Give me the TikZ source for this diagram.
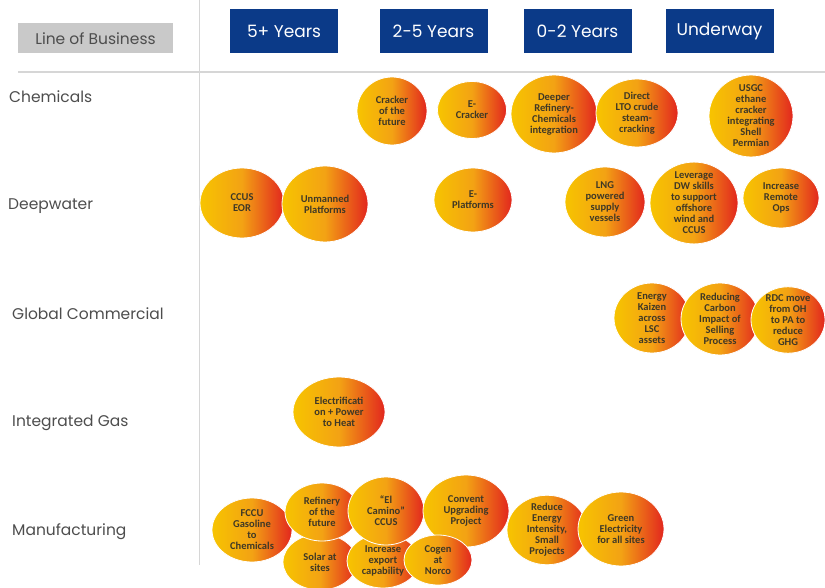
\documentclass[tikz,border=0pt]{standalone}
\usepackage{fontspec}
\usepackage{xcolor}
\usetikzlibrary{shapes.geometric}
\newfontfamily\headfont{Poppins}
\newfontfamily\bubfont{Carlito}
\definecolor{navy}{HTML}{0B3A88}
\definecolor{boxgray}{HTML}{C9C9C9}
\definecolor{txtgray}{HTML}{4D4D4D}
\definecolor{linegray}{HTML}{D6D6D6}
\definecolor{bubyellow}{HTML}{F7C400}
\definecolor{buborange}{HTML}{F3A214}
\definecolor{bubred}{HTML}{E2261E}
\definecolor{bubtext}{HTML}{3F3826}

\begin{document}
\begin{tikzpicture}[x=1pt,y=-1pt,
  yearbox/.style={fill=navy,text=white,minimum width=108pt,minimum height=44pt,
    font=\headfont\fontsize{17}{19}\selectfont},
  lobbox/.style={fill=boxgray,text=txtgray,minimum width=155pt,minimum height=30pt,
    font=\headfont\fontsize{15.5}{17}\selectfont},
  rowlab/.style={anchor=west,text=txtgray,inner sep=0pt,
    font=\headfont\fontsize{15.5}{18}\selectfont},
  bubble/.style={ellipse,draw=white,line width=0.8pt,
    left color=bubyellow,right color=bubred,middle color=buborange,
    inner sep=-2pt,align=center,text=bubtext,
    font=\bubfont\bfseries\fontsize{10.5}{11}\selectfont},
  bsize/.style 2 args={minimum width=#1pt,minimum height=#2pt}]
\useasboundingbox (0,0) rectangle (825,588);
% Rules
\draw[linegray,line width=1.5pt] (18,72) -- (825,72);
\draw[linegray,line width=1pt] (199,0) -- (199,565);
% Header
\node[lobbox] (lob) at (95.5,38.5) {Line of Business};
\node[yearbox] (yrs5) at (284,31) {5+ Years};
\node[yearbox] (yrs25) at (433.5,31) {2-5 Years};
\node[yearbox] (yrs02) at (577.5,31) {0-2 Years};
\node[yearbox] (underway) at (719.5,31) {Underway};
% Lines of business
\node[rowlab] (chem) at (9,97) {Chemicals};
\node[rowlab] (deep) at (8,206) {Deepwater};
\node[rowlab] (glob) at (12,314) {Global Commercial};
\node[rowlab] (intgas) at (12,423) {Integrated Gas};
\node[rowlab] (manuf) at (12,532) {Manufacturing};
% Chemicals
\node[bubble,bsize={70}{68}] (crackerfut) at (392,111) {Cracker\\of the\\future};
\node[bubble,bsize={69}{57}] (ecracker) at (472,110) {E-\\Cracker};
\node[bubble,bsize={86}{78}] (deeper) at (554,114) {Deeper\\Refinery-\\Chemicals\\integration};
\node[bubble,bsize={82}{68}] (direct) at (637,113) {Direct\\LTO crude\\steam-\\cracking};
\node[bubble,bsize={84}{74}] (usgc) at (751,116) {USGC\\ethane\\cracker\\integrating\\Shell\\Permian};
% Deepwater
\node[bubble,bsize={84}{70}] (ccus) at (242,203) {CCUS\\EOR};
\node[bubble,bsize={86}{76}] (unmanned) at (325,204) {Unmanned\\Platforms};
\node[bubble,bsize={78}{64}] (eplat) at (473,200) {E-\\Platforms};
\node[bubble,bsize={80}{70}] (lng) at (605,202) {LNG\\powered\\supply\\vessels};
\node[bubble,bsize={88}{78}] (leverage) at (694,203) {Leverage\\DW skills\\to support\\offshore\\wind and\\CCUS};
\node[bubble,bsize={76}{60}] (remote) at (781,198) {Increase\\Remote\\Ops};
% Global Commercial
\node[bubble,bsize={76}{70}] (kaizen) at (652,318) {Energy\\Kaizen\\across\\LSC\\assets};
\node[bubble,bsize={78}{72}] (carbon) at (720,319) {Reducing\\Carbon\\Impact of\\Selling\\Process};
\node[bubble,bsize={74}{64}] (rdc) at (788,320) {RDC move\\from OH\\to PA to\\reduce\\GHG};
% Integrated Gas
\node[bubble,bsize={92}{70}] (electr) at (339,412) {Electrificati\\on + Power\\to Heat};
% Manufacturing
\node[bubble,bsize={80}{64}] (fccu) at (252,530) {FCCU\\Gasoline\\to\\Chemicals};
\node[bubble,bsize={74}{56}] (solar) at (320,562) {Solar at\\sites};
\node[bubble,bsize={72}{54}] (export) at (383,561) {Increase\\export\\capability};
\node[bubble,bsize={74}{58}] (refinery) at (322,512) {Refinery\\of the\\future};
\node[bubble,bsize={76}{68}] (elcamino) at (386,511) {“El\\Camino”\\CCUS};
\node[bubble,bsize={86}{72}] (convent) at (466,511) {Convent\\Upgrading\\Project};
\node[bubble,bsize={68}{50}] (cogen) at (438,560) {Cogen\\at\\Norco};
\node[bubble,bsize={80}{64}] (reduce) at (547,530) {Reduce\\Energy\\Intensity,\\Small\\Projects};
\node[bubble,bsize={86}{74}] (green) at (621,529) {Green\\Electricity\\for all sites};
\end{tikzpicture}
\end{document}
